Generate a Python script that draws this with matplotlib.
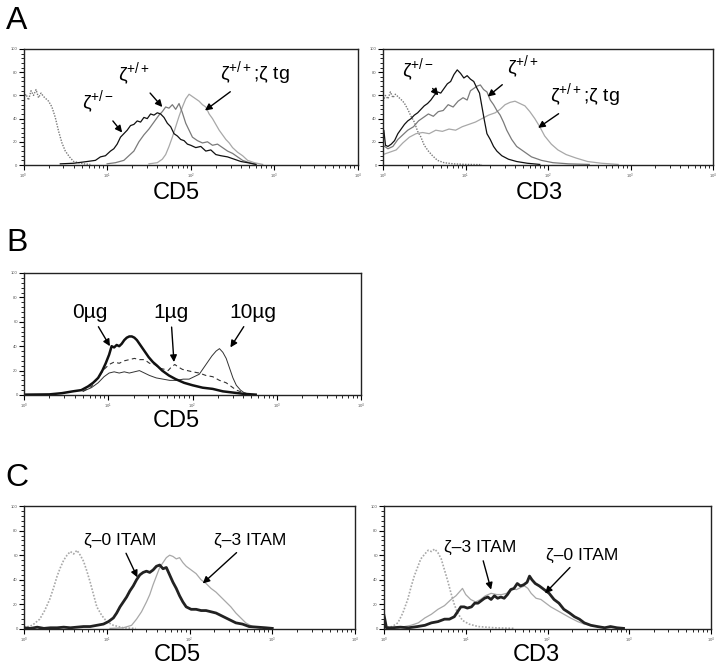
import matplotlib
matplotlib.use("Agg")
import matplotlib.pyplot as plt
from matplotlib.ticker import MultipleLocator, LogLocator, NullFormatter
import numpy as np

plt.rcParams['font.family'] = ['Liberation Sans', 'DejaVu Sans']
plt.rcParams['mathtext.fontset'] = 'custom'
plt.rcParams['mathtext.rm'] = 'Liberation Sans'
plt.rcParams['mathtext.it'] = 'Liberation Sans'

W, H = 720, 669

# ---- data: x in log10 fluorescence, y in relative cell number (0-100) ----
# panel A, CD5
a5_ctrl_x = [0.00, 0.03, 0.06, 0.09, 0.12, 0.15, 0.18, 0.21, 0.24, 0.27, 0.30, 0.34, 0.38, 0.42, 0.46,
             0.50, 0.55, 0.60, 0.66, 0.72, 0.80]
a5_ctrl_y = [58, 61, 56, 64, 60, 65, 58, 62, 59, 57, 55, 50, 41, 29, 19, 12, 7, 3, 2, 1, 0.5]
a5_het_x = [0.44, 0.60, 0.76, 0.86, 0.92, 0.98, 1.04, 1.08, 1.12, 1.16, 1.20, 1.24, 1.28, 1.32, 1.36,
            1.40, 1.44, 1.48, 1.52, 1.56, 1.60, 1.64, 1.68, 1.72, 1.76, 1.80, 1.84, 1.88, 1.92, 1.96,
            2.00, 2.06, 2.12, 2.18, 2.24, 2.30, 2.36, 2.44, 2.52, 2.60, 2.68, 2.78]
a5_het_y = [1, 1.5, 3, 4, 7, 8, 12, 14, 18, 24, 27, 30, 34, 35, 38, 37, 41, 40, 44, 43, 45, 44, 41, 36,
            33, 27, 25, 22, 21, 18, 17, 15, 16, 12, 13, 9, 8, 7, 5, 3, 2, 0.5]
a5_wt_x = [1.00, 1.10, 1.20, 1.26, 1.32, 1.38, 1.44, 1.50, 1.56, 1.62, 1.66, 1.70, 1.74, 1.78, 1.82,
           1.86, 1.90, 1.94, 1.98, 2.02, 2.08, 2.14, 2.20, 2.26, 2.32, 2.38, 2.44, 2.50, 2.56, 2.62,
           2.70, 2.78]
a5_wt_y = [1, 2, 4, 8, 12, 20, 26, 31, 37, 43, 46, 50, 49, 52, 48, 53, 45, 36, 30, 24, 21, 19, 20, 17,
           18, 15, 12, 10, 7, 4, 2, 0.5]
a5_tg_x = [1.50, 1.60, 1.66, 1.70, 1.74, 1.78, 1.82, 1.86, 1.90, 1.94, 1.98, 2.02, 2.06, 2.10, 2.14,
           2.18, 2.22, 2.26, 2.30, 2.34, 2.38, 2.42, 2.46, 2.50, 2.56, 2.62, 2.68, 2.76, 2.86]
a5_tg_y = [1, 2, 5, 9, 16, 24, 33, 42, 50, 57, 61, 59, 57, 55, 52, 50, 44, 40, 35, 30, 26, 22, 19, 15,
           11, 8, 4, 2, 0.5]

# panel A, CD3
a3_ctrl_x = [0.00, 0.03, 0.06, 0.09, 0.12, 0.15, 0.18, 0.21, 0.24, 0.27, 0.30, 0.34, 0.38, 0.42, 0.46,
             0.50, 0.55, 0.60, 0.66, 0.74, 0.85, 1.00, 1.20]
a3_ctrl_y = [55, 60, 57, 63, 58, 61, 59, 57, 55, 52, 48, 42, 37, 29, 24, 17, 12, 8, 4, 2, 1, 0.5, 0.3]
a3_het_x = [0.00, 0.01, 0.03, 0.06, 0.10, 0.14, 0.18, 0.22, 0.26, 0.30, 0.34, 0.38, 0.42, 0.46, 0.50,
            0.54, 0.58, 0.62, 0.66, 0.70, 0.74, 0.78, 0.82, 0.86, 0.90, 0.94, 0.98, 1.02, 1.06, 1.10,
            1.14, 1.17, 1.20, 1.23, 1.26, 1.30, 1.34, 1.38, 1.44, 1.52, 1.62, 1.75, 1.90]
a3_het_y = [20, 30, 17, 16, 18, 21, 27, 31, 35, 38, 40, 43, 45, 48, 51, 53, 56, 60, 63, 62, 66, 70, 72,
            78, 82, 79, 75, 77, 74, 72, 66, 62, 50, 38, 27, 22, 16, 12, 8, 5, 3, 1.5, 0.5]
a3_wt_x = [0.00, 0.06, 0.12, 0.18, 0.24, 0.30, 0.37, 0.43, 0.49, 0.55, 0.61, 0.67, 0.73, 0.79, 0.85,
           0.91, 0.97, 1.02, 1.06, 1.10, 1.14, 1.18, 1.22, 1.26, 1.30, 1.34, 1.38, 1.42, 1.46, 1.50,
           1.56, 1.62, 1.70, 1.80, 1.92, 2.06, 2.25, 2.50]
a3_wt_y = [17, 14, 16, 22, 26, 30, 33, 38, 41, 44, 42, 46, 47, 52, 50, 55, 58, 56, 64, 66, 68, 69, 65,
           63, 56, 52, 47, 43, 37, 30, 22, 16, 12, 7, 4, 2, 1, 0.5]
a3_tg_x = [0.00, 0.08, 0.16, 0.24, 0.32, 0.40, 0.48, 0.56, 0.64, 0.72, 0.80, 0.88, 0.96, 1.04, 1.12,
           1.20, 1.28, 1.36, 1.42, 1.48, 1.54, 1.60, 1.66, 1.72, 1.78, 1.84, 1.90, 1.96, 2.04, 2.12,
           2.22, 2.34, 2.48, 2.65, 2.85]
a3_tg_y = [9, 11, 13, 19, 24, 27, 28, 27, 30, 29, 31, 30, 33, 35, 37, 40, 43, 45, 48, 52, 54, 55, 53,
           51, 46, 40, 33, 25, 18, 13, 9, 6, 3, 1.5, 0.5]

# panel B, CD5 (0, 1, 10 ug)
b_0_x = [0.00, 0.30, 0.45, 0.58, 0.68, 0.76, 0.82, 0.88, 0.93, 0.97, 1.01, 1.04, 1.07, 1.10, 1.13,
         1.16, 1.19, 1.22, 1.25, 1.28, 1.31, 1.34, 1.37, 1.40, 1.44, 1.48, 1.53, 1.58, 1.64, 1.72,
         1.80, 1.90, 2.00, 2.12, 2.24, 2.36, 2.48, 2.60, 2.75]
b_0_y = [0.3, 0.5, 1.5, 3, 4, 7, 10, 14, 20, 26, 33, 40, 39, 41, 40, 42, 45, 47, 48, 48, 47, 45, 42,
         39, 35, 31, 27, 24, 20, 16, 13, 10, 8, 6, 5, 3, 2, 1, 0.3]
b_1_x = [0.70, 0.80, 0.88, 0.95, 1.01, 1.07, 1.13, 1.19, 1.25, 1.31, 1.37, 1.43, 1.49, 1.55, 1.61,
         1.67, 1.71, 1.75, 1.79, 1.83, 1.88, 1.94, 2.00, 2.08, 2.16, 2.24, 2.32, 2.40, 2.46, 2.52,
         2.60, 2.68]
b_1_y = [3, 7, 14, 21, 25, 27, 26, 28, 29, 30, 29, 29, 26, 25, 22, 21, 20, 23, 25, 23, 21, 20, 19, 18,
         16, 15, 12, 10, 7, 4, 2, 0.5]
b_10_x = [0.70, 0.80, 0.88, 0.95, 1.01, 1.07, 1.13, 1.19, 1.25, 1.31, 1.37, 1.43, 1.49, 1.57, 1.65,
          1.73, 1.81, 1.89, 1.96, 2.02, 2.08, 2.13, 2.18, 2.23, 2.28, 2.32, 2.36, 2.40, 2.44, 2.48,
          2.52, 2.57, 2.62, 2.70]
b_10_y = [3, 6, 10, 15, 18, 19, 18, 19, 18, 19, 20, 18, 16, 14, 13, 12, 12, 13, 13, 15, 17, 22, 27, 32,
          36, 38, 35, 30, 22, 14, 8, 4, 1.5, 0.3]

# panel C, CD5
c5_ctrl_x = [0.00, 0.10, 0.19, 0.25, 0.31, 0.36, 0.40, 0.44, 0.48, 0.52, 0.56, 0.60, 0.64, 0.68, 0.72,
             0.76, 0.80, 0.84, 0.88, 0.94, 1.00, 1.08, 1.20, 1.35]
c5_ctrl_y = [1, 3, 8, 15, 24, 34, 43, 50, 56, 60, 63, 61, 64, 60, 55, 47, 38, 28, 18, 11, 6, 3, 1, 0.5]
c5_0_x = [0.00, 0.08, 0.16, 0.24, 0.32, 0.40, 0.48, 0.56, 0.64, 0.72, 0.80, 0.88, 0.96, 1.02, 1.08,
          1.12, 1.16, 1.20, 1.24, 1.28, 1.32, 1.36, 1.40, 1.44, 1.48, 1.52, 1.56, 1.60, 1.64, 1.68,
          1.72, 1.76, 1.80, 1.84, 1.88, 1.92, 1.96, 2.02, 2.08, 2.14, 2.20, 2.26, 2.32, 2.38, 2.44,
          2.50, 2.56, 2.64, 2.72, 2.82, 2.92, 3.00]
c5_0_y = [1, 0.5, 1.5, 0.5, 1, 1, 1.5, 1, 1.5, 2, 2, 3, 4, 6, 9, 13, 18, 22, 26, 31, 35, 40, 44, 46, 47,
          46, 48, 51, 52, 49, 50, 44, 38, 33, 27, 22, 18, 16, 16, 15, 15, 14, 13, 11, 9, 7, 5, 4, 2,
          1.5, 1, 0.5]
c5_3_x = [1.04, 1.20, 1.30, 1.36, 1.42, 1.48, 1.52, 1.56, 1.60, 1.64, 1.68, 1.72, 1.76, 1.80, 1.84,
          1.88, 1.92, 1.96, 2.02, 2.08, 2.14, 2.20, 2.26, 2.32, 2.38, 2.44, 2.50, 2.56, 2.62, 2.68,
          2.76, 2.86]
c5_3_y = [0.5, 1, 3, 8, 14, 22, 28, 36, 43, 50, 54, 58, 60, 59, 57, 58, 54, 51, 48, 45, 40, 37, 33, 30,
          26, 22, 18, 13, 9, 5, 2, 0.5]

# panel C, CD3
c3_ctrl_x = [0.00, 0.10, 0.17, 0.23, 0.29, 0.33, 0.37, 0.41, 0.45, 0.50, 0.54, 0.58, 0.62, 0.66, 0.70,
             0.74, 0.78, 0.82, 0.86, 0.90, 0.96, 1.04, 1.15, 1.35, 1.60]
c3_ctrl_y = [1, 2, 5, 13, 24, 34, 43, 50, 57, 61, 64, 63, 65, 62, 57, 48, 39, 29, 20, 13, 7, 4, 2, 1,
             0.5]
c3_0_x = [0.00, 0.01, 0.03, 0.10, 0.20, 0.30, 0.41, 0.50, 0.58, 0.66, 0.74, 0.80, 0.86, 0.90, 0.94,
          0.98, 1.02, 1.07, 1.11, 1.15, 1.19, 1.23, 1.27, 1.31, 1.35, 1.39, 1.43, 1.47, 1.51, 1.55,
          1.59, 1.63, 1.67, 1.71, 1.75, 1.78, 1.81, 1.85, 1.90, 1.96, 2.02, 2.08, 2.14, 2.20, 2.27,
          2.33, 2.39, 2.45, 2.53, 2.61, 2.70, 2.77, 2.85, 2.93]
c3_0_y = [11, 8, 1, 1, 1.5, 1, 2, 3, 5, 6, 8, 8, 10, 14, 18, 18, 17, 18, 21, 21, 23, 25, 26, 24, 27, 25,
          26, 25, 28, 32, 33, 37, 35, 36, 38, 43, 40, 37, 35, 32, 29, 24, 21, 16, 13, 10, 8, 5, 3, 2,
          1, 2, 1, 0.5]
c3_3_x = [0.17, 0.33, 0.42, 0.50, 0.58, 0.66, 0.74, 0.82, 0.88, 0.92, 0.96, 1.00, 1.06, 1.12, 1.18,
          1.24, 1.31, 1.38, 1.44, 1.50, 1.56, 1.62, 1.68, 1.72, 1.76, 1.80, 1.86, 1.92, 1.98, 2.04,
          2.12, 2.20, 2.28, 2.37, 2.45, 2.53, 2.65, 2.77]
c3_3_y = [1, 3, 5, 9, 12, 16, 19, 24, 27, 30, 33, 28, 24, 22, 24, 27, 29, 28, 28, 29, 33, 32, 34, 35,
          33, 29, 25, 24, 21, 18, 15, 12, 9, 6, 4, 3, 1.5, 1]

HET = r'ζ$^{+/-}$'
WT = r'ζ$^{+/+}$'
TG = r'ζ$^{+/+}$;ζ tg'

BLACK = '#111111'
MID = '#7a7a7a'
LIGHT = '#a8a8a8'
DOT = (0, (1, 1))


def make_ax(fig, l, t, r, b):
    # box given in pixels from top-left
    ax = fig.add_axes([l / W, 1 - b / H, (r - l) / W, (b - t) / H])
    ax.set_xscale('log')
    ax.set_xlim(1, 1e4)
    ax.set_ylim(0, 100)
    ax.xaxis.set_major_locator(LogLocator(base=10, numticks=10))
    ax.xaxis.set_minor_locator(LogLocator(base=10, subs=np.arange(2, 10), numticks=10))
    ax.xaxis.set_minor_formatter(NullFormatter())
    ax.yaxis.set_major_locator(MultipleLocator(20))
    ax.yaxis.set_minor_locator(MultipleLocator(4))
    ax.tick_params(which='major', direction='out', length=3.5, width=0.8, labelsize=3,
                   labelcolor='#555555', pad=1)
    ax.tick_params(which='minor', direction='out', length=2, width=0.6)
    for s in ax.spines.values():
        s.set_linewidth(1.0)
        s.set_color('#222222')
    return ax


def curve(ax, xs, ys, **kw):
    ax.plot(10 ** np.asarray(xs), ys, **kw)


def label(ax, text, txy, hxy, size=12):
    ax.annotate(text, xy=(10 ** hxy[0], hxy[1]), xytext=(10 ** txy[0], txy[1]),
                ha='center', va='center', fontsize=size,
                arrowprops=dict(arrowstyle='-|>', color='black', lw=1.0,
                                mutation_scale=10, shrinkA=2, shrinkB=0))


fig = plt.figure(figsize=(W / 100, H / 100), dpi=100)

# ---- A, CD5
ax = make_ax(fig, 23.5, 49, 358, 165)
curve(ax, a5_ctrl_x, a5_ctrl_y, color=MID, lw=1.0, ls=DOT)
curve(ax, a5_tg_x, a5_tg_y, color=LIGHT, lw=0.9)
curve(ax, a5_wt_x, a5_wt_y, color=MID, lw=0.9)
curve(ax, a5_het_x, a5_het_y, color=BLACK, lw=0.9)
label(ax, HET, (0.89, 54), (1.18, 28), 14)
label(ax, WT, (1.32, 78), (1.66, 50), 14)
label(ax, TG, (2.77, 79), (2.17, 47), 14)

# ---- A, CD3
ax = make_ax(fig, 383, 49, 713, 165)
curve(ax, a3_ctrl_x, a3_ctrl_y, color=MID, lw=1.0, ls=DOT)
curve(ax, a3_tg_x, a3_tg_y, color=LIGHT, lw=0.9)
curve(ax, a3_wt_x, a3_wt_y, color=MID, lw=0.9)
curve(ax, a3_het_x, a3_het_y, color=BLACK, lw=0.9)
label(ax, HET, (0.42, 82), (0.67, 60), 14)
label(ax, WT, (1.70, 84), (1.27, 59), 14)
label(ax, TG, (2.45, 60), (1.88, 32), 14)

# ---- B, CD5
ax = make_ax(fig, 24, 273, 361, 395)
curve(ax, b_10_x, b_10_y, color='#333333', lw=0.7)
curve(ax, b_1_x, b_1_y, color='#333333', lw=0.8, ls=(0, (4, 3)))
curve(ax, b_0_x, b_0_y, color=BLACK, lw=1.8)
label(ax, '0µg', (0.78, 68), (1.02, 40), 15)
label(ax, '1µg', (1.74, 68), (1.78, 27), 15)
label(ax, '10µg', (2.72, 68), (2.45, 39), 15)

# ---- C, CD5
ax = make_ax(fig, 24, 506, 355, 629)
curve(ax, c5_ctrl_x, c5_ctrl_y, color=LIGHT, lw=1.2, ls=DOT)
curve(ax, c5_3_x, c5_3_y, color=LIGHT, lw=0.9)
curve(ax, c5_0_x, c5_0_y, color='#222222', lw=2.0)
label(ax, 'ζ–0 ITAM', (1.16, 72), (1.37, 42), 12.5)
label(ax, 'ζ–3 ITAM', (2.73, 72), (2.16, 37), 12.5)

# ---- C, CD3
ax = make_ax(fig, 384, 506, 711, 629)
curve(ax, c3_ctrl_x, c3_ctrl_y, color=LIGHT, lw=1.2, ls=DOT)
curve(ax, c3_3_x, c3_3_y, color=LIGHT, lw=0.9)
curve(ax, c3_0_x, c3_0_y, color='#222222', lw=2.0)
label(ax, 'ζ–3 ITAM', (1.17, 66), (1.31, 32), 12.5)
label(ax, 'ζ–0 ITAM', (2.42, 60), (1.97, 29), 12.5)

# panel letters and axis names
for ch, (x, y) in {'A': (17, 21), 'B': (17, 243), 'C': (17, 478)}.items():
    fig.text(x / W, 1 - y / H, ch, fontsize=23, ha='center', va='center')
for name, (x, y) in {'CD5': (176, 193), 'CD3': (539, 193)}.items():
    fig.text(x / W, 1 - y / H, name, fontsize=17, ha='center', va='center')
fig.text(176 / W, 1 - 421 / H, 'CD5', fontsize=17, ha='center', va='center')
fig.text(177 / W, 1 - 655 / H, 'CD5', fontsize=17, ha='center', va='center')
fig.text(536 / W, 1 - 655 / H, 'CD3', fontsize=17, ha='center', va='center')

fig.savefig('out.png', dpi=100, facecolor='white')
